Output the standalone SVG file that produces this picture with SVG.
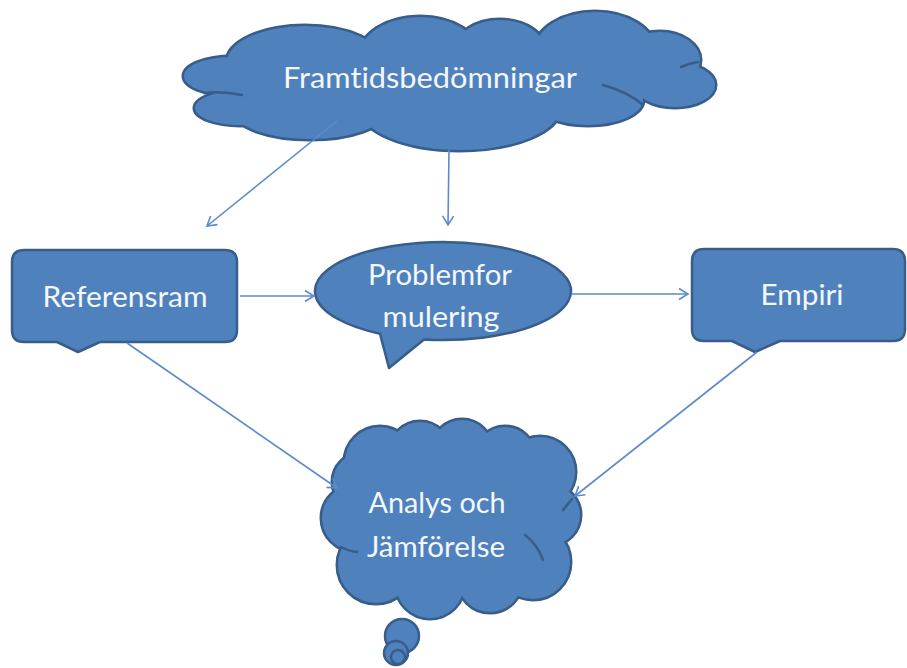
<svg xmlns="http://www.w3.org/2000/svg" xmlns:xlink="http://www.w3.org/1999/xlink" width="907" height="668" viewBox="0 0 907 668">
<style>
.shape{fill:#4F81BD;stroke:#385D8A;stroke-width:2.5;stroke-linejoin:round}
.inner{fill:none;stroke:#385D8A;stroke-width:2.5;stroke-linecap:round}
.lbl{font-family:Lato,"Liberation Sans",sans-serif;font-size:28px;fill:#F4F7FB;text-anchor:middle;font-variant-ligatures:none;font-feature-settings:"liga" 0}
.conn{fill:none;stroke:#5B8BCB;stroke-width:1.6}
</style>
<defs>
<marker id="ah" markerWidth="14" markerHeight="14" refX="11" refY="7" orient="auto" markerUnits="userSpaceOnUse">
<path d="M2,1.5 L11,7 L2,12.5" fill="none" stroke="#5B8BCB" stroke-width="1.6"/>
</marker>
<g id="cloudTop">
<ellipse cx="232" cy="76" rx="48" ry="19"/>
<ellipse cx="240" cy="108" rx="45" ry="17"/>
<ellipse cx="305" cy="62" rx="78" ry="36"/>
<ellipse cx="420" cy="55" rx="60" ry="38"/>
<ellipse cx="500" cy="50" rx="45" ry="30"/>
<ellipse cx="595" cy="50" rx="60" ry="38"/>
<ellipse cx="660" cy="60" rx="40" ry="28"/>
<ellipse cx="675" cy="85" rx="40" ry="22"/>
<ellipse cx="588" cy="100" rx="55" ry="25"/>
<ellipse cx="460" cy="108" rx="100" ry="42"/>
<ellipse cx="310" cy="112" rx="75" ry="27"/>
<ellipse cx="450" cy="80" rx="215" ry="40"/>
</g>
<g id="cloudBot">
<circle cx="380" cy="462" r="35"/>
<circle cx="420" cy="452" r="30"/>
<circle cx="462" cy="450" r="30"/>
<circle cx="505" cy="457" r="30"/>
<circle cx="540" cy="472" r="35"/>
<circle cx="550" cy="515" r="30"/>
<circle cx="533" cy="562" r="37"/>
<circle cx="490" cy="580" r="32"/>
<circle cx="430" cy="584" r="34"/>
<circle cx="376" cy="565" r="38"/>
<circle cx="355" cy="518" r="33"/>
<circle cx="362" cy="482" r="29"/>
<ellipse cx="450" cy="515" rx="100" ry="75"/>
</g>
</defs>

<g id="framtidsbedomningar">
<use xlink:href="#cloudTop" fill="#4F81BD" stroke="#385D8A" stroke-width="5"/>
<use xlink:href="#cloudTop" fill="#4F81BD" stroke="none"/>
<path class="inner" d="M204,93 Q222,91 242,95"/>
<path class="inner" d="M603,85 Q628,92 643,105"/>
<path class="inner" d="M681,67 Q690,63 698,62"/>
<text class="lbl" x="430" y="88" textLength="294" lengthAdjust="spacingAndGlyphs">Framtidsbedömningar</text>
</g>

<g id="referensram">
<path class="shape" d="M24,250 H225 Q237,250 237,262 V330 Q237,342 225,342 H100 L78,352 L57,342 H24 Q12,342 12,330 V262 Q12,250 24,250 Z"/>
<text class="lbl" x="125" y="307" textLength="165" lengthAdjust="spacingAndGlyphs">Referensram</text>
</g>

<g id="problemformulering">
<path class="shape" d="M424,339.5 A128 49 0 1 0 380,333.7 L389,368 Z"/>
<text class="lbl" x="440" y="285" textLength="144" lengthAdjust="spacingAndGlyphs">Problemfor</text>
<text class="lbl" x="441" y="327" textLength="117" lengthAdjust="spacingAndGlyphs">mulering</text>
</g>

<g id="empiri">
<path class="shape" d="M704,249 H893 Q905,249 905,261 V329 Q905,341 893,341 H780 L755,352 L732,341 H704 Q692,341 692,329 V261 Q692,249 704,249 Z"/>
<text class="lbl" x="802" y="305" textLength="83" lengthAdjust="spacingAndGlyphs">Empiri</text>
</g>

<g id="analys">
<use xlink:href="#cloudBot" fill="#4F81BD" stroke="#385D8A" stroke-width="5"/>
<use xlink:href="#cloudBot" fill="#4F81BD" stroke="none"/>
<path class="inner" d="M563,510 Q568,504 572,499"/>
<path class="inner" d="M525,535 Q538,545 543,560"/>
<path class="inner" d="M341,547 Q348,551 357,552"/>
<circle class="shape" cx="402" cy="636" r="17"/>
<circle class="shape" cx="396" cy="653" r="12"/>
<circle class="shape" cx="398" cy="657" r="7"/>
<text class="lbl" x="437" y="513" textLength="137" lengthAdjust="spacingAndGlyphs">Analys och</text>
<text class="lbl" x="436" y="557" textLength="138" lengthAdjust="spacingAndGlyphs">Jämförelse</text>
</g>

<g id="connectors">
<path class="conn" d="M337,121 L207,226" marker-end="url(#ah)"/>
<path class="conn" d="M449,150 L448,225" marker-end="url(#ah)"/>
<path class="conn" d="M240,296 L314,296" marker-end="url(#ah)"/>
<path class="conn" d="M572,294 L688,294" marker-end="url(#ah)"/>
<path class="conn" d="M127,343 L337,488" marker-end="url(#ah)"/>
<path class="conn" d="M757,352 L575,496" marker-end="url(#ah)"/>
</g>
</svg>
